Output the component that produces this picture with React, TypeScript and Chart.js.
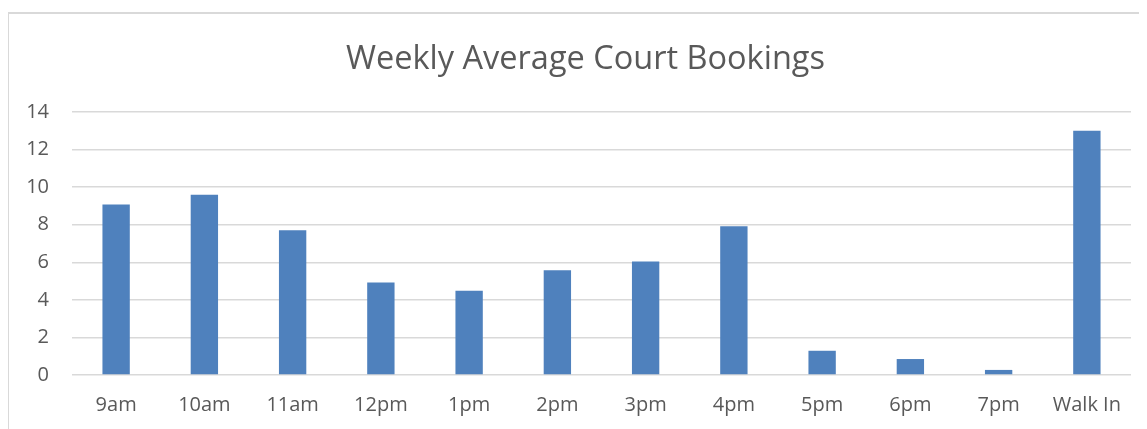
import React, { useEffect, useRef } from "react";
import { Chart, registerables } from "chart.js";

Chart.register(...registerables);

const categories = ["9am", "10am", "11am", "12pm", "1pm", "2pm", "3pm", "4pm", "5pm", "6pm", "7pm", "Walk In"];
const bookings = [9.07, 9.6, 7.71, 4.93, 4.48, 5.57, 6.04, 7.92, 1.29, 0.85, 0.27, 13.0];
const titleText = "Weekly Average Court Bookings";
const yMin = 0;
const yMax = 14;
const yStep = 2;

const TEXT = "#595959";
const GRID = "#d9d9d9";
const BAR = "#4f81bd";

const titlePlugin = {
  id: "offsetTitle",
  afterDraw(chart: any) {
    const ctx = chart.ctx;
    ctx.save();
    ctx.fillStyle = TEXT;
    ctx.font = "normal 32.5px 'Open Sans'";
    ctx.textAlign = "center";
    ctx.textBaseline = "middle";
    ctx.fillText(titleText, (chart.width + 16) / 2, 51.5);
    ctx.restore();
  },
};

export default function App() {
  const ref = useRef<HTMLCanvasElement | null>(null);

  useEffect(() => {
    if (!ref.current) return;
    const chart = new Chart(ref.current, {
      type: "bar",
      data: {
        labels: categories,
        datasets: [
          {
            label: "Bookings",
            data: bookings,
            backgroundColor: BAR,
            borderWidth: 0,
            barPercentage: 0.31,
            categoryPercentage: 1,
          },
        ],
      },
      plugins: [titlePlugin],
      options: {
        responsive: false,
        animation: false,
        maintainAspectRatio: false,
        layout: { padding: { left: 0, right: 16, top: 104, bottom: 0 } },
        plugins: {
          legend: { display: false },
          tooltip: { enabled: false },
          title: { display: false },
        },
        scales: {
          x: {
            grid: { display: false, drawTicks: false },
            border: { display: false },
            ticks: {
              color: TEXT,
              font: { family: "'Open Sans'", size: 20 },
              padding: 18,
              maxRotation: 0,
              autoSkip: false,
            },
            afterFit: (axis: any) => {
              axis.height = 54;
            },
          },
          y: {
            min: yMin,
            max: yMax,
            grid: { color: GRID, lineWidth: 1.5, drawTicks: false },
            border: { display: false },
            ticks: {
              stepSize: yStep,
              color: TEXT,
              font: { family: "'Open Sans'", size: 20 },
              padding: 23,
            },
            afterFit: (axis: any) => {
              axis.width = 64;
            },
          },
        },
      },
    });
    return () => chart.destroy();
  }, []);

  return (
    <div style={{ position: "relative", width: 1139, height: 421, overflow: "hidden" }}>
      <div
        style={{
          position: "absolute",
          left: -1,
          top: 4,
          right: 0,
          bottom: 0,
          borderTop: `2px solid ${GRID}`,
          borderLeft: `2px solid ${GRID}`,
          pointerEvents: "none",
        }}
      />
      <canvas ref={ref} width={1139} height={421} style={{ display: "block" }} />
    </div>
  );
}
